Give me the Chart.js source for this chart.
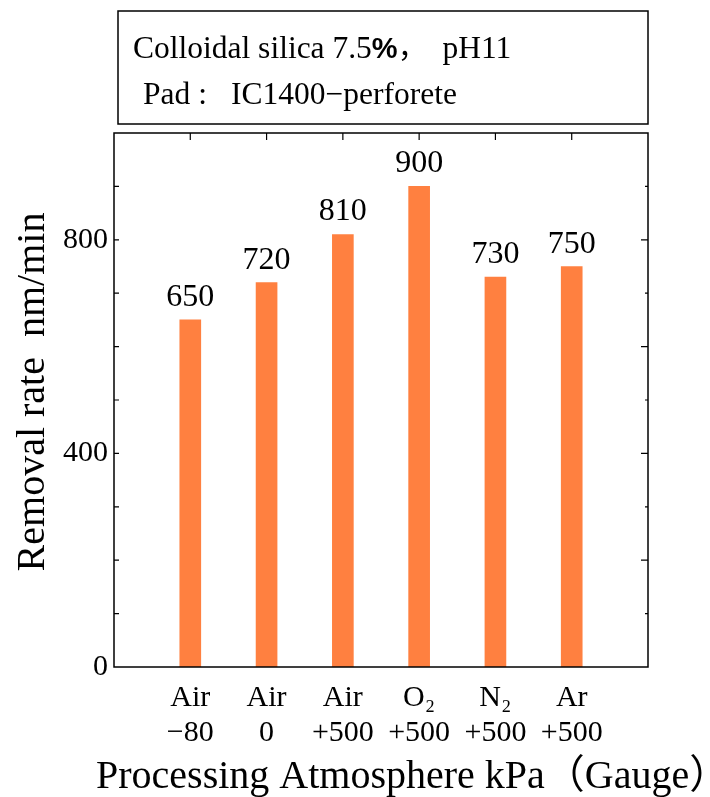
<!DOCTYPE html>
<html>
<head>
<meta charset="utf-8">
<script src="https://cdn.jsdelivr.net/npm/chart.js@4"></script>
<style>
  html, body { margin: 0; padding: 0; background: #fff; }
  #wrap { width: 710px; height: 797px; position: relative; }
</style>
</head>
<body>
<div id="wrap"><canvas id="rateChart"></canvas></div>
<script>
const categories = [['Air', '−80'], ['Air', '0'], ['Air', '+500'], ['O₂', '+500'], ['N₂', '+500'], ['Ar', '+500']];
const removalRates = [650, 720, 810, 900, 730, 750];
const yTickLabels = [0, 400, 800];

const SERIF = '"Liberation Serif", "Times New Roman", "Noto Sans CJK JP", serif';
const BAR_COLOR = '#FF8040';

// empty slot on each side so the bars sit on the tick positions
const labels = [''].concat(categories, ['']);
const values = [null].concat(removalRates, [null]);

const decorations = {
  id: 'decorations',
  afterDraw(chart) {
    const { ctx, chartArea: a, scales } = chart;
    const y = scales.y, x = scales.x;
    ctx.save();

    // plot frame
    ctx.strokeStyle = '#000';
    ctx.lineWidth = 1.5;
    ctx.strokeRect(a.left, a.top, a.right - a.left, a.bottom - a.top);

    // inward ticks on the left and right edges
    ctx.lineWidth = 1.2;
    for (let v = 100; v < 1000; v += 100) {
      const py = y.getPixelForValue(v);
      const major = v % 200 === 0;
      ctx.beginPath();
      ctx.moveTo(a.left, py); ctx.lineTo(a.left + 5, py);
      ctx.moveTo(a.right, py); ctx.lineTo(a.right - (major ? 7 : 3), py);
      ctx.stroke();
    }
    // ticks hanging from the top edge at each bar
    for (let i = 1; i <= categories.length; i++) {
      const px = x.getPixelForValue(i);
      ctx.beginPath();
      ctx.moveTo(px, a.top); ctx.lineTo(px, a.top + 7);
      ctx.stroke();
    }

    // value labels over the bars
    ctx.fillStyle = '#000';
    ctx.font = '32px ' + SERIF;
    ctx.textAlign = 'center';
    ctx.textBaseline = 'alphabetic';
    chart.getDatasetMeta(0).data.forEach((bar, i) => {
      if (values[i] == null) return;
      ctx.fillText(String(values[i]), bar.x, bar.y - 14);
    });

    // conditions box
    ctx.lineWidth = 1.5;
    ctx.strokeRect(118, 11, 530, 113);
    ctx.textAlign = 'left';
    let tx = 133;
    const parts = [
      ['Colloidal silica 7.5', '31.5px ' + SERIF],
      ['%', 'bold 29px "Liberation Sans", Arial, sans-serif'],
      ['，', '29px "Noto Sans CJK JP", sans-serif'],
      ['  pH11', '31.5px ' + SERIF],
    ];
    parts.forEach(([t, f]) => {
      ctx.font = f;
      ctx.fillText(t, tx, 58);
      tx += ctx.measureText(t).width;
    });
    ctx.font = '31.5px ' + SERIF;
    ctx.fillText('Pad :', 143, 104);
    ctx.fillText('IC1400−perforete', 231, 104);

    // axis titles
    ctx.font = '40px ' + SERIF;
    ctx.textAlign = 'left';
    ctx.fillText('Processing Atmosphere kPa（Gauge）', 96, 788);

    ctx.save();
    ctx.translate(44, 392);
    ctx.rotate(-Math.PI / 2);
    ctx.textAlign = 'center';
    ctx.fillText('Removal rate  nm/min', 0, 0);
    ctx.restore();

    ctx.restore();
  }
};

new Chart(document.getElementById('rateChart'), {
  type: 'bar',
  data: {
    labels,
    datasets: [{
      data: values,
      backgroundColor: BAR_COLOR,
      borderWidth: 0,
      barThickness: 21,
    }],
  },
  options: {
    responsive: true,
    maintainAspectRatio: false,
    animation: false,
    layout: { padding: { top: 133, right: 62, left: 0, bottom: 0 } },
    scales: {
      x: {
        offset: false,
        grid: { display: false, drawTicks: false },
        border: { display: false },
        ticks: {
          autoSkip: false,
          maxRotation: 0,
          padding: 14,
          color: '#000',
          font: { family: SERIF, size: 30, lineHeight: 1.15 },
        },
        afterFit(scale) { scale.height = 130; },
      },
      y: {
        min: 0,
        max: 1000,
        grid: { display: false, drawTicks: false },
        border: { display: false },
        ticks: {
          stepSize: 100,
          autoSkip: false,
          padding: 6,
          color: '#000',
          font: { family: SERIF, size: 30 },
          callback: v => (yTickLabels.includes(v) ? v : ''),
        },
        afterFit(scale) { scale.width = 114; },
      },
    },
    plugins: {
      legend: { display: false },
      tooltip: { enabled: false },
    },
  },
  plugins: [decorations],
});
</script>
</body>
</html>
